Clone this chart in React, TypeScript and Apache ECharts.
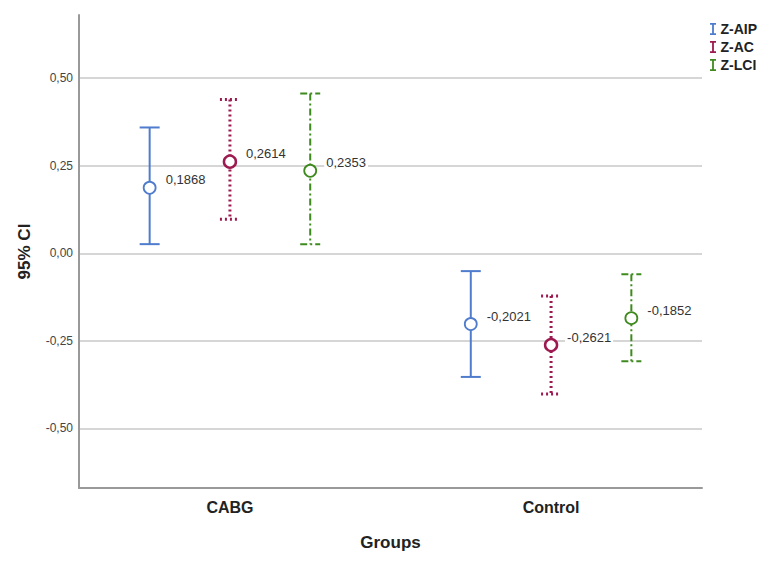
import React, { useEffect, useRef } from "react";
import * as echarts from "echarts";

const categories = ["CABG", "Control"];
const seriesNames = ["Z-AIP", "Z-AC", "Z-LCI"];
const aipMean = [0.1868, -0.2021];
const aipLow = [0.026, -0.353];
const aipHigh = [0.359, -0.051];
const acMean = [0.2614, -0.2621];
const acLow = [0.097, -0.402];
const acHigh = [0.439, -0.122];
const lciMean = [0.2353, -0.1852];
const lciLow = [0.026, -0.308];
const lciHigh = [0.456, -0.06];
const yTicks = [-0.5, -0.25, 0, 0.25, 0.5];
const xTicks = categories.map((c, i) => i);

const FONT = "'Liberation Sans', Arial, sans-serif";
const fmt = (v: number, d: number) => v.toFixed(d).replace(".", ",");

type Style = { color: string; width: number; dash: number[] | null; offset: number };
const styles: Style[] = [
  { color: "#4f7ccc", width: 2, dash: null, offset: -0.25 },
  { color: "#9c1a4f", width: 3, dash: [2, 3], offset: 0 },
  { color: "#3f8a1f", width: 2, dash: [7, 3, 2, 3], offset: 0.25 },
];

const iBeam = "path://M0,0 H10 V3 H6.5 V17 H10 V20 H0 V17 H3.5 V3 H0 Z";

function makeSeries(name: string, mean: number[], low: number[], high: number[], st: Style) {
  const data = categories.map((c, i) => [i, low[i], high[i], mean[i]]);
  return {
    type: "custom",
    name,
    itemStyle: { color: st.color },
    data,
    renderItem: (params: any, api: any) => {
      const ci = api.value(0);
      const x = api.coord([ci + st.offset, 0])[0];
      const yLow = api.coord([ci, api.value(1)])[1];
      const yHigh = api.coord([ci, api.value(2)])[1];
      const m = api.value(3);
      const yMean = api.coord([ci, m])[1];
      const cap = 10;
      const lineStyle: any = { stroke: st.color, lineWidth: st.width, fill: null };
      if (st.dash) lineStyle.lineDash = st.dash;
      return {
        type: "group",
        children: [
          { type: "line", shape: { x1: x, y1: yHigh, x2: x, y2: yLow }, style: lineStyle },
          { type: "line", shape: { x1: x - cap, y1: yHigh, x2: x + cap, y2: yHigh }, style: lineStyle },
          { type: "line", shape: { x1: x - cap, y1: yLow, x2: x + cap, y2: yLow }, style: lineStyle },
          {
            type: "circle",
            shape: { cx: x, cy: yMean, r: 6 },
            style: { stroke: st.color, lineWidth: st.width === 3 ? 2.5 : 1.8, fill: "#fff" },
          },
          {
            type: "text",
            x: x + 14,
            y: yMean - 8,
            style: {
              text: fmt(m, 4),
              fill: "#333",
              font: `13px ${FONT}`,
              verticalAlign: "middle",
              align: "left",
              backgroundColor: "#fff",
              padding: [1, 2],
            },
          },
        ],
      };
    },
  };
}

export default function App() {
  const ref = useRef<HTMLDivElement>(null);
  useEffect(() => {
    if (!ref.current) return;
    const chart = echarts.init(ref.current, null, { renderer: "svg" });
    chart.setOption({
      animation: false,
      backgroundColor: "#fff",
      grid: { left: 79, right: 75, top: 15, bottom: 77 },
      legend: {
        orient: "vertical",
        left: 705,
        top: 17,
        itemWidth: 7,
        itemHeight: 12,
        itemGap: 4,
        data: seriesNames.map((n) => ({ name: n, icon: iBeam })),
        textStyle: { fontFamily: FONT, fontWeight: "bold", fontSize: 14, color: "#222", padding: [0, 0, 0, -1] },
      },
      xAxis: {
        type: "value",
        min: -0.47,
        max: 1.47,
        name: "Groups",
        nameLocation: "middle",
        nameGap: 46,
        nameTextStyle: { fontFamily: FONT, fontWeight: "bold", fontSize: 17, color: "#222" },
        axisLine: { onZero: false, lineStyle: { color: "#999", width: 2 } },
        axisTick: { show: false, customValues: xTicks },
        axisLabel: {
          customValues: xTicks,
          fontFamily: FONT,
          fontWeight: "bold",
          fontSize: 16,
          color: "#222",
          margin: 11,
          formatter: (v: number) => categories[Math.round(v)] ?? "",
        },
        splitLine: { show: false },
      },
      yAxis: {
        type: "value",
        min: -0.67,
        max: 0.68,
        name: "95% CI",
        nameLocation: "middle",
        nameGap: 46,
        nameTextStyle: { fontFamily: FONT, fontWeight: "bold", fontSize: 17, color: "#222" },
        axisLine: { show: true, onZero: false, lineStyle: { color: "#999", width: 2 } },
        axisTick: { show: false, customValues: yTicks },
        axisLabel: {
          customValues: yTicks,
          fontFamily: FONT,
          fontSize: 12,
          color: "#444",
          margin: 6,
          formatter: (v: number) => fmt(v, 2),
        },
        splitLine: { show: true, lineStyle: { color: "#c8c8c8", width: 1.5 } },
      },
      series: [
        makeSeries(seriesNames[0], aipMean, aipLow, aipHigh, styles[0]),
        makeSeries(seriesNames[1], acMean, acLow, acHigh, styles[1]),
        makeSeries(seriesNames[2], lciMean, lciLow, lciHigh, styles[2]),
      ],
    });
    return () => chart.dispose();
  }, []);
  return <div ref={ref} style={{ width: 777, height: 565, margin: -8 }} />;
}
